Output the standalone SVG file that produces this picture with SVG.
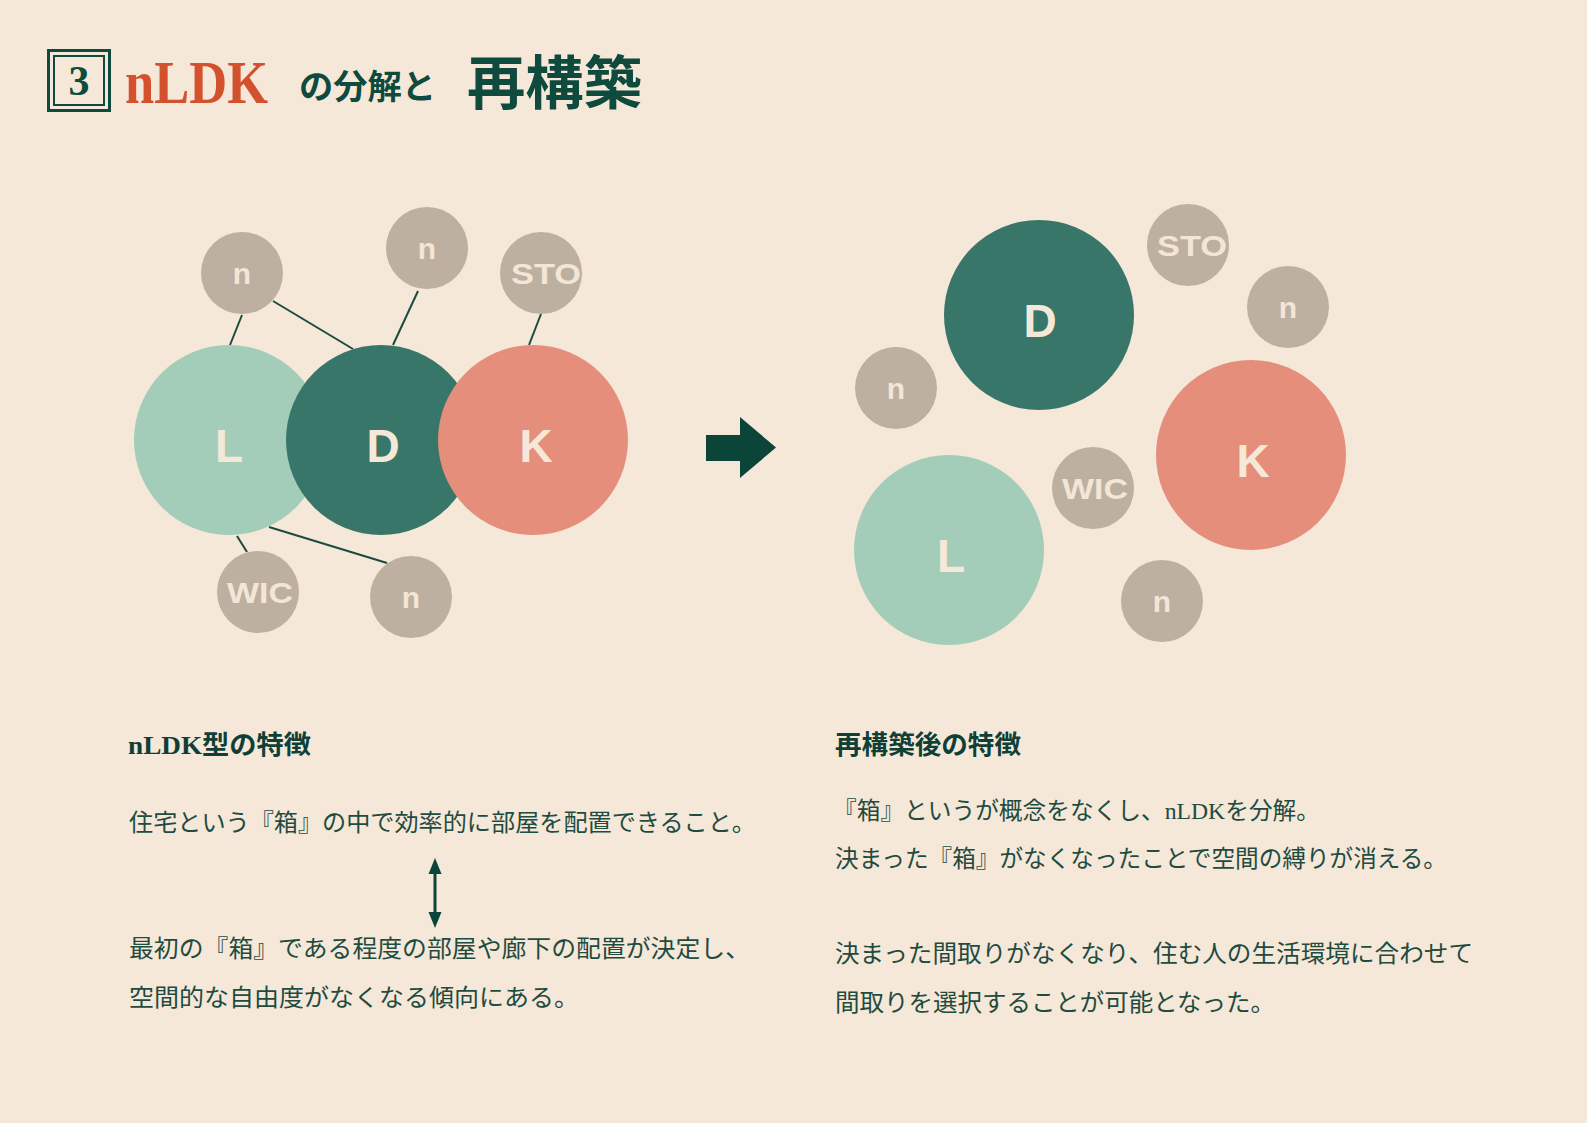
<svg xmlns="http://www.w3.org/2000/svg" width="1587" height="1123" viewBox="0 0 1587 1123">
<style>
.bg{fill:#f5e8d8}
.cL{fill:#a3cdb9}
.cD{fill:#38766a}
.cK{fill:#e48e7b}
.cS{fill:#bdb0a0}
.big{font-family:"Liberation Sans","Noto Sans",sans-serif;font-weight:bold;font-size:46px;fill:#f5e8d8;text-anchor:middle}
.sm{font-family:"Liberation Sans","Noto Sans",sans-serif;font-weight:bold;font-size:30px;fill:#f3e6d6;text-anchor:middle}
.con{stroke:#1a4a40;stroke-width:2;fill:none}
.jp{font-family:"Liberation Serif","Noto Sans CJK JP",serif;fill:#1f4b41;font-size:24px}
.hd{font-family:"Liberation Serif","Noto Sans CJK JP",serif;fill:#0f3f36;font-size:26px;font-weight:bold}
.ttl{font-family:"Liberation Serif","Noto Sans CJK JP",serif;font-weight:bold}
</style>
<rect class="bg" x="0" y="0" width="1587" height="1123"/>

<g id="title">
  <rect x="48.5" y="50.5" width="61" height="60" fill="none" stroke="#0e4a3d" stroke-width="3"/>
  <rect x="54" y="56" width="50" height="49" fill="none" stroke="#0e4a3d" stroke-width="2"/>
  <text class="ttl" x="79" y="95" font-size="42" fill="#0e4a3d" text-anchor="middle">3</text>
  <text class="ttl" x="125" y="103" font-size="62" fill="#d4512d" textLength="143" lengthAdjust="spacingAndGlyphs">nLDK</text>
  <text class="ttl" x="299" y="99" font-size="34" fill="#0e4a3d" textLength="137" lengthAdjust="spacingAndGlyphs">の分解と</text>
  <text class="ttl" x="467" y="104" font-size="58" fill="#0e4a3d" textLength="175" lengthAdjust="spacingAndGlyphs">再構築</text>
</g>

<g id="connectors">
  <line class="con" x1="242" y1="315" x2="230" y2="345"/>
  <line class="con" x1="273" y1="301" x2="353" y2="349"/>
  <line class="con" x1="418" y1="291" x2="393" y2="345"/>
  <line class="con" x1="541" y1="314" x2="529" y2="345"/>
  <line class="con" x1="237" y1="536" x2="247" y2="552"/>
  <line class="con" x1="269" y1="527" x2="387" y2="563"/>
</g>

<g id="left-L"><circle class="cL" cx="229" cy="440" r="95"/><text class="big" x="229" y="462">L</text></g>
<g id="left-D"><circle class="cD" cx="381" cy="440" r="95"/><text class="big" x="383" y="462">D</text></g>
<g id="left-K"><circle class="cK" cx="533" cy="440" r="95"/><text class="big" x="536" y="462">K</text></g>
<g id="left-n1"><circle class="cS" cx="242" cy="273" r="41"/><text class="sm" x="242" y="284">n</text></g>
<g id="left-n2"><circle class="cS" cx="427" cy="248" r="41"/><text class="sm" x="427" y="259">n</text></g>
<g id="left-STO"><circle class="cS" cx="541" cy="273" r="41"/><text class="sm" x="546" y="284" textLength="70" lengthAdjust="spacingAndGlyphs">STO</text></g>
<g id="left-WIC"><circle class="cS" cx="258" cy="592" r="41"/><text class="sm" x="260" y="603" textLength="66" lengthAdjust="spacingAndGlyphs">WIC</text></g>
<g id="left-n3"><circle class="cS" cx="411" cy="597" r="41"/><text class="sm" x="411" y="608">n</text></g>

<g id="arrow">
  <polygon points="706,435 740,435 740,417 776,447.5 740,478 740,461 706,461" fill="#0b4439"/>
</g>

<g id="right-D"><circle class="cD" cx="1039" cy="315" r="95"/><text class="big" x="1040" y="337">D</text></g>
<g id="right-L"><circle class="cL" cx="949" cy="550" r="95"/><text class="big" x="951" y="572">L</text></g>
<g id="right-K"><circle class="cK" cx="1251" cy="455" r="95"/><text class="big" x="1253" y="477">K</text></g>
<g id="right-STO"><circle class="cS" cx="1188" cy="245" r="41"/><text class="sm" x="1192" y="256" textLength="70" lengthAdjust="spacingAndGlyphs">STO</text></g>
<g id="right-n1"><circle class="cS" cx="1288" cy="307" r="41"/><text class="sm" x="1288" y="318">n</text></g>
<g id="right-n2"><circle class="cS" cx="896" cy="388" r="41"/><text class="sm" x="896" y="399">n</text></g>
<g id="right-WIC"><circle class="cS" cx="1093" cy="488" r="41"/><text class="sm" x="1095" y="499" textLength="66" lengthAdjust="spacingAndGlyphs">WIC</text></g>
<g id="right-n3"><circle class="cS" cx="1162" cy="601" r="41"/><text class="sm" x="1162" y="612">n</text></g>

<g id="left-text">
  <text class="hd" x="128" y="754" textLength="183" lengthAdjust="spacingAndGlyphs">nLDK型の特徴</text>
  <text class="jp" x="129" y="831" textLength="627" lengthAdjust="spacingAndGlyphs">住宅という『箱』の中で効率的に部屋を配置できること。</text>
  <g id="double-arrow" fill="#0b4439">
    <line x1="435" y1="870" x2="435" y2="916" stroke="#0b4439" stroke-width="3"/>
    <polygon points="435,858 428.5,874 441.5,874"/>
    <polygon points="435,928 428.5,912 441.5,912"/>
  </g>
  <text class="jp" x="129" y="957" textLength="621" lengthAdjust="spacingAndGlyphs">最初の『箱』である程度の部屋や廊下の配置が決定し、</text>
  <text class="jp" x="129" y="1006" textLength="450" lengthAdjust="spacingAndGlyphs">空間的な自由度がなくなる傾向にある。</text>
</g>

<g id="right-text">
  <text class="hd" x="835" y="754" textLength="186" lengthAdjust="spacingAndGlyphs">再構築後の特徴</text>
  <text class="jp" x="833" y="819" textLength="487" lengthAdjust="spacingAndGlyphs">『箱』というが概念をなくし、nLDKを分解。</text>
  <text class="jp" x="835" y="867" textLength="612" lengthAdjust="spacingAndGlyphs">決まった『箱』がなくなったことで空間の縛りが消える。</text>
  <text class="jp" x="835" y="962" textLength="638" lengthAdjust="spacingAndGlyphs">決まった間取りがなくなり、住む人の生活環境に合わせて</text>
  <text class="jp" x="835" y="1011" textLength="440" lengthAdjust="spacingAndGlyphs">間取りを選択することが可能となった。</text>
</g>
</svg>
